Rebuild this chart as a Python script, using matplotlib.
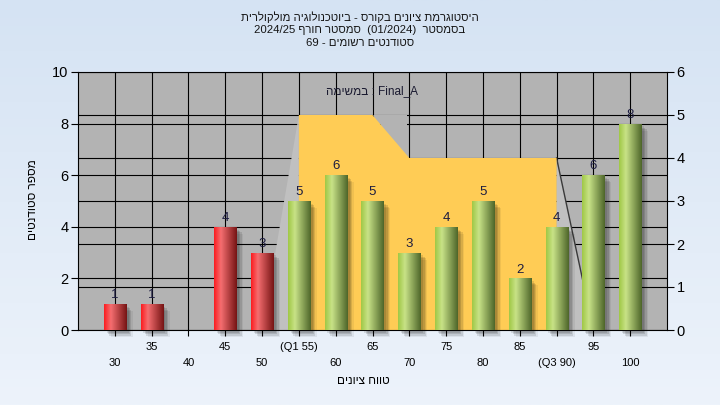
import numpy as np
import matplotlib.pyplot as plt
import matplotlib.transforms as mtransforms
from matplotlib.patches import Polygon

plt.rcParams['font.family'] = ['Liberation Sans', 'DejaVu Sans']

# ---- data
grades = [30, 35, 40, 45, 50, 55, 60, 65, 70, 75, 80, 85, 90, 95, 100]
counts = [1, 1, 0, 4, 3, 5, 6, 5, 3, 4, 5, 2, 4, 6, 8]
tick_labels = ['30', '35', '40', '45', '50', '(Q1 55)', '60', '65', '70',
               '75', '80', '85', '(Q3 90)', '95', '100']
pass_mark = 55

# quartile "box" drawn against the right axis
box_x = [55, 65, 70, 90]
box_y = [5, 5, 4, 4]
tail_left = 50
tail_right = 95

left_ticks = [0, 2, 4, 6, 8, 10]
right_ticks = [0, 1, 2, 3, 4, 5, 6]


def rev(s):
    # matplotlib has no bidi, so hebrew runs are written in visual order
    return s[::-1]


title_lines = [
    rev("היסטוגרמת ציונים בקורס - ביוטכנולוגיה מולקולרית"),
    "2024/25 " + rev("סמסטר חורף") + "  (01/2024)  " + rev("בסמסטר"),
    "69 - " + rev("סטודנטים רשומים"),
]
task_label = rev("במשימה") + " : Final_A"
y_title = rev("מספר סטודנטים")
x_title = rev("טווח ציונים")

W, H = 720, 405
fig = plt.figure(figsize=(7.2, 4.05), dpi=100)

# light blue background gradient
bg = fig.add_axes([0, 0, 1, 1], zorder=-10)
grad = np.linspace(0, 1, 200)[:, None]
top_c = np.array([213, 227, 243]) / 255
bot_c = np.array([237, 243, 251]) / 255
img = top_c[None, None, :] * (1 - grad[:, :, None]) + bot_c[None, None, :] * grad[:, :, None]
bg.imshow(img, aspect='auto', extent=[0, 1, 0, 1])
bg.axis('off')

ax = fig.add_axes([78 / W, 1 - 330 / H, (667 - 78) / W, (330 - 72) / H])
ax2 = ax.twinx()
ax.set_facecolor('#b3b3b3')
ax.set_xlim(25, 105)
ax.set_ylim(0, 10)
ax2.set_ylim(0, 6)

# grid (left and right scales)
ax.set_axisbelow(True)
ax.set_xticks(grades)
ax.set_yticks(left_ticks)
ax.grid(True, color='black', lw=0.8)
mix_right = mtransforms.blended_transform_factory(ax.transAxes, ax2.transData)
ax.hlines(right_ticks[1:-1], 0, 1, transform=mix_right, color='black', lw=0.8, zorder=0.6)

# quartile area (x from ax, y from right axis)
area_tr = mtransforms.blended_transform_factory(ax.transData, ax2.transData)
ax.add_patch(Polygon([(tail_left, 0), (box_x[0], box_y[0]), (box_x[0], 0)],
                     closed=True, fc='#c0c0c0', ec='none', transform=area_tr, zorder=1))
ax.add_patch(Polygon([(box_x[1], box_y[1]), (box_x[2] - 0.3, box_y[1]), (box_x[2] - 0.3, box_y[2])],
                     closed=True, fc='#b3b3b3', ec='none', transform=area_tr, zorder=1))
ax.add_patch(Polygon([(box_x[-1], box_y[-1]), (tail_right, 0), (box_x[-1], 0)],
                     closed=True, fc='#c0c0c0', ec='none', transform=area_tr, zorder=1))
ax.plot([box_x[-1], tail_right], [box_y[-1], 0], color='#3a3a3a', lw=1.0,
        transform=area_tr, zorder=1.1)
ax.add_patch(Polygon([(box_x[0], 0)] + list(zip(box_x, box_y)) + [(box_x[-1], 0)],
                     closed=True, fc='#ffcc55', ec='none', transform=area_tr, zorder=1.2))

# bar shadows
bw = 3.0
for k, a in [(5, 0.06), (4, 0.10), (3, 0.12), (2, 0.10)]:
    off = mtransforms.ScaledTranslation(k / 72, -k / 72, fig.dpi_scale_trans)
    ax.bar(grades, counts, width=bw, color='black', alpha=a, lw=0,
           transform=ax.transData + off, zorder=2, clip_on=False)

# cylinder-like bars
green = [(0.0, (160, 200, 70)), (0.3, (200, 226, 135)), (1.0, (78, 102, 42))]
red = [(0.0, (252, 28, 32)), (0.3, (245, 110, 112)), (1.0, (118, 20, 20))]


def ramp(stops, n=64):
    t = np.linspace(0, 1, n)
    pos = [s[0] for s in stops]
    out = np.zeros((1, n, 3))
    for c in range(3):
        out[0, :, c] = np.interp(t, pos, [s[1][c] for s in stops]) / 255
    return out


bars = ax.bar(grades, counts, width=bw, color='none', lw=0, zorder=3)
for g, rect in zip(grades, bars):
    if rect.get_height() <= 0:
        continue
    x0 = rect.get_x()
    im = ax.imshow(ramp(green if g >= pass_mark else red), aspect='auto',
                   extent=[x0, x0 + rect.get_width(), 0, rect.get_height()], zorder=3)
    im.set_clip_path(rect)

ax.set_xlim(25, 105)
ax.set_ylim(0, 10)

ax.bar_label(bars, labels=[str(c) if c > 0 else '' for c in counts], padding=2,
             fontsize=9.5, color='#1c1c40')

ax.text(0.5, 0.925, task_label, transform=ax.transAxes, ha='center', va='center',
        fontsize=8.5, color='#1a1a30')

# axes / ticks
for s in ax.spines.values():
    s.set_color('black')
for s in ax2.spines.values():
    s.set_visible(False)
ax.tick_params(axis='y', direction='out', length=5, labelsize=10.5, pad=2)
ax2.set_yticks(right_ticks)
ax2.tick_params(axis='y', direction='out', length=5, labelsize=10.5, pad=2)
ax.set_xticklabels(tick_labels)
ax.tick_params(axis='x', direction='out', length=4, labelsize=8, pad=5)
for i, t in enumerate(ax.xaxis.get_major_ticks()):
    if i % 2 == 0:
        t.set_pad(16.5)

fig.text(33 / W, 1 - 200 / H, y_title, rotation=90, ha='center', va='center', fontsize=8.5)
fig.text(363 / W, 1 - 381 / H, x_title, ha='center', va='center', fontsize=8.5)
for i, line in enumerate(title_lines):
    fig.text(0.5, 1 - (17 + 13 * i) / H, line, ha='center', va='center', fontsize=8.2,
             color='#151515')

fig.savefig('out.png', dpi=100)
